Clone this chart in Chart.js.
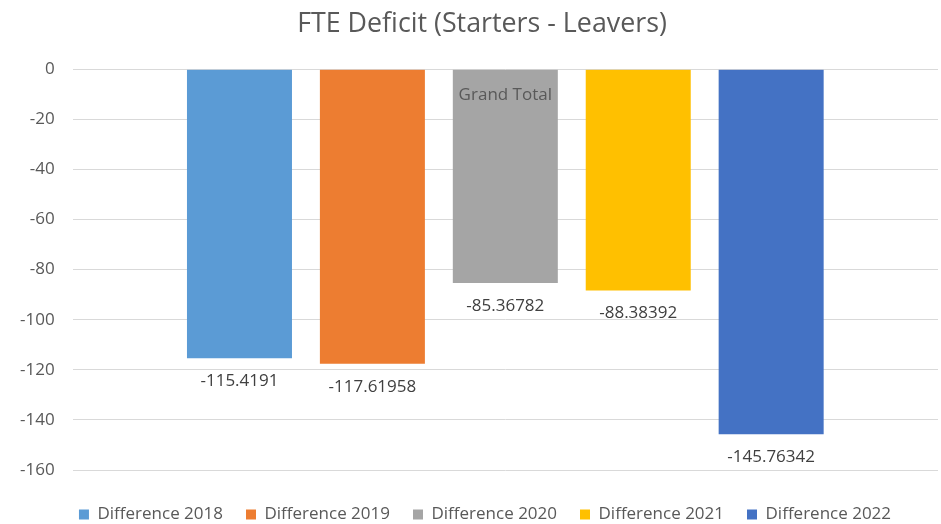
<!DOCTYPE html>
<html>
<head>
<meta charset="utf-8">
<script src="https://cdn.jsdelivr.net/npm/chart.js@4.4.0/dist/chart.umd.min.js"></script>
<style>
  html, body { margin: 0; padding: 0; background: #fff; }
  #wrap { width: 941px; height: 524px; }
</style>
</head>
<body>
<div id="wrap"><canvas id="fteChart"></canvas></div>
<script>
  // Data
  const categories = ['Grand Total'];
  const seriesNames = ['Difference 2018', 'Difference 2019', 'Difference 2020', 'Difference 2021', 'Difference 2022'];
  const seriesValues = [-115.4191, -117.61958, -85.36782, -88.38392, -145.76342];
  const seriesColors = ['#5B9BD5', '#ED7D31', '#A5A5A5', '#FFC000', '#4472C4'];
  const yTicks = [0, -20, -40, -60, -80, -100, -120, -140, -160];

  const fontFamily = '"Open Sans", Lato, sans-serif';

  // values under each bar + category name just below the zero line
  const valueLabels = {
    id: 'valueLabels',
    afterDatasetsDraw(chart) {
      const ctx = chart.ctx;
      const xs = chart.scales.x, ys = chart.scales.y;
      ctx.save();
      ctx.font = '17px ' + fontFamily;
      ctx.textAlign = 'center';
      ctx.textBaseline = 'middle';
      ctx.fillStyle = '#404040';
      chart.data.datasets.forEach((ds, i) => {
        const meta = chart.getDatasetMeta(i);
        meta.data.forEach((bar, j) => {
          ctx.fillText(String(ds.data[j]), bar.x, bar.y + 23);
        });
      });
      ctx.fillStyle = '#595959';
      categories.forEach((c, j) => {
        ctx.fillText(c, xs.getPixelForValue(j), ys.getPixelForValue(0) + 26);
      });
      ctx.restore();
    }
  };

  // Excel centres title and legend over the plot rather than the canvas
  const nudgeBlocks = {
    id: 'nudgeBlocks',
    afterLayout(chart) {
      if (chart.titleBlock) { chart.titleBlock.left += 12; chart.titleBlock.right += 12; }
      if (chart.legend) { chart.legend.left += 15; chart.legend.right += 15; }
    }
  };

  const ctx = document.getElementById('fteChart').getContext('2d');
  new Chart(ctx, {
    type: 'bar',
    data: {
      labels: categories,
      datasets: seriesNames.map((name, i) => ({
        label: name,
        data: [seriesValues[i]],
        backgroundColor: seriesColors[i],
        categoryPercentage: 0.768,
        barPercentage: 0.79
      }))
    },
    options: {
      responsive: true,
      maintainAspectRatio: false,
      animation: false,
      layout: { padding: { left: 2, right: 3, top: 0, bottom: 0 } },
      plugins: {
        title: {
          display: true,
          text: 'FTE Deficit (Starters - Leavers)',
          color: '#595959',
          font: { family: fontFamily, size: 26.8, weight: 'normal' },
          padding: { top: 8, bottom: 29 }
        },
        legend: {
          position: 'bottom',
          maxHeight: 41,
          labels: {
            color: '#595959',
            font: { family: fontFamily, size: 17 },
            boxWidth: 10,
            boxHeight: 10,
            padding: 23
          }
        },
        tooltip: { enabled: false }
      },
      scales: {
        x: {
          grid: { display: false, drawTicks: false },
          border: { display: false },
          ticks: { display: false },
          afterFit(scale) { scale.height = 13; }
        },
        y: {
          min: -160,
          max: 0,
          afterBuildTicks(scale) {
            scale.ticks = yTicks.map(v => ({ value: v }));
          },
          grid: { color: '#D9D9D9', lineWidth: 1, drawTicks: false },
          border: { display: false },
          ticks: {
            color: '#595959',
            font: { family: fontFamily, size: 17 },
            padding: 18
          }
        }
      }
    },
    plugins: [valueLabels, nudgeBlocks]
  });
</script>
</body>
</html>
